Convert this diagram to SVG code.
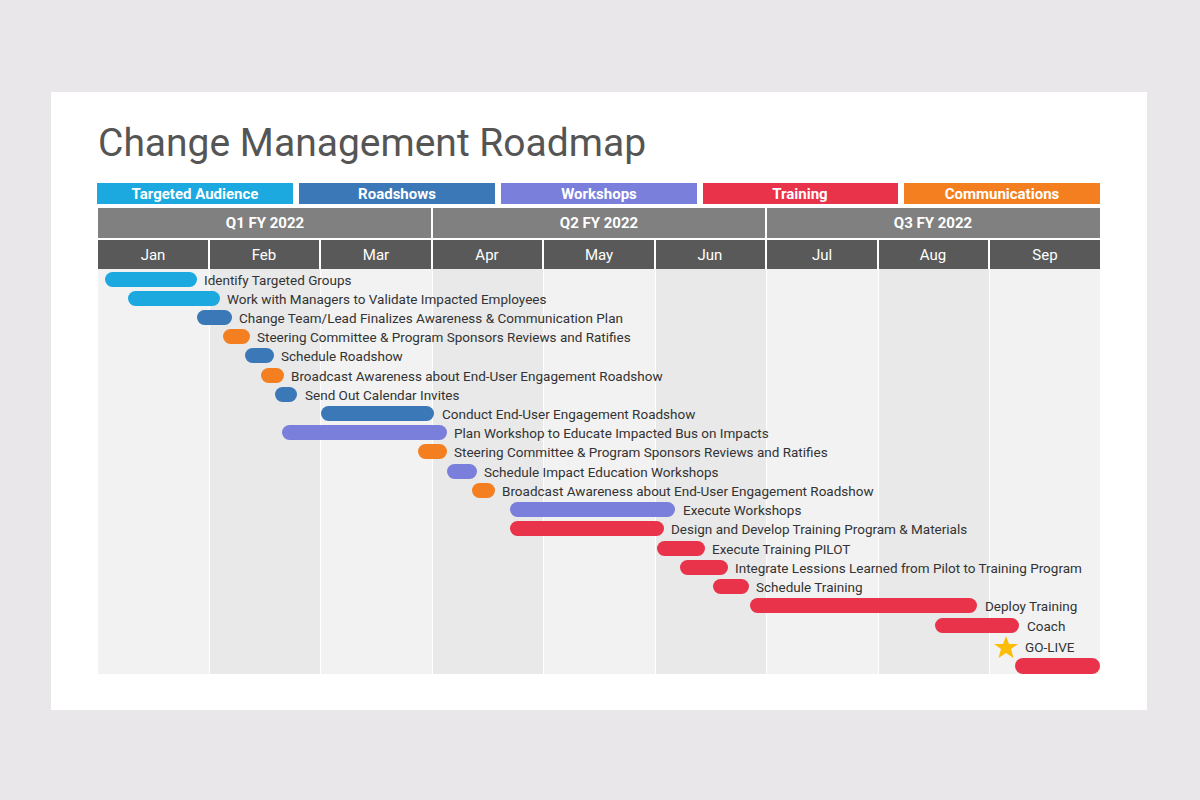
<svg xmlns="http://www.w3.org/2000/svg" width="1200" height="800" viewBox="0 0 1200 800">
<style>
.lg{font-family:Roboto,"Liberation Sans",sans-serif;font-size:15px;font-weight:bold;fill:#fff;text-anchor:middle}
.hd{font-family:Roboto,"Liberation Sans",sans-serif;font-size:15px;fill:#fff;text-anchor:middle}
.hq{font-family:Roboto,"Liberation Sans",sans-serif;font-size:15px;font-weight:bold;fill:#fff;text-anchor:middle}
.t{font-family:Roboto,"Liberation Sans",sans-serif;font-size:13.5px;fill:#333}
.ta{fill:#1ba9e0}.rs{fill:#3a78b8}.ws{fill:#7b7fdc}.tr{fill:#e8334a}.cm{fill:#f47f20}
</style>
<rect width="1200" height="800" fill="#e9e7e9"/>
<rect x="51" y="92" width="1096" height="618" fill="#fff"/>
<text x="98" y="156" font-family="Roboto,'Liberation Sans',sans-serif" font-size="39" fill="#555">Change Management Roadmap</text>
<g id="legend">
<rect x="97" y="183" width="196" height="21" class="ta"/><text x="195" y="199" class="lg">Targeted Audience</text>
<rect x="299" y="183" width="196" height="21" class="rs"/><text x="397" y="199" class="lg">Roadshows</text>
<rect x="501" y="183" width="196" height="21" class="ws"/><text x="599" y="199" class="lg">Workshops</text>
<rect x="703" y="183" width="195" height="21" class="tr"/><text x="800" y="199" class="lg">Training</text>
<rect x="904" y="183" width="196" height="21" class="cm"/><text x="1002" y="199" class="lg">Communications</text>
</g>
<g id="grid">
<rect x="98" y="269" width="111" height="405" fill="#f2f2f2"/>
<rect x="210" y="269" width="110" height="405" fill="#e9e9e9"/>
<rect x="321" y="269" width="111" height="405" fill="#f2f2f2"/>
<rect x="433" y="269" width="110" height="405" fill="#e9e9e9"/>
<rect x="544" y="269" width="111" height="405" fill="#f2f2f2"/>
<rect x="656" y="269" width="110" height="405" fill="#e9e9e9"/>
<rect x="767" y="269" width="111" height="405" fill="#f2f2f2"/>
<rect x="879" y="269" width="110" height="405" fill="#e9e9e9"/>
<rect x="990" y="269" width="110" height="405" fill="#f2f2f2"/>
<rect x="98" y="208" width="333" height="30" fill="#808080"/><text x="265" y="228" class="hq">Q1 FY 2022</text>
<rect x="433" y="208" width="332" height="30" fill="#808080"/><text x="599" y="228" class="hq">Q2 FY 2022</text>
<rect x="767" y="208" width="333" height="30" fill="#808080"/><text x="933" y="228" class="hq">Q3 FY 2022</text>
<g fill="#595959">
<rect x="98" y="240" width="110" height="29"/><rect x="210" y="240" width="109" height="29"/><rect x="321" y="240" width="110" height="29"/>
<rect x="433" y="240" width="109" height="29"/><rect x="544" y="240" width="110" height="29"/><rect x="656" y="240" width="109" height="29"/>
<rect x="767" y="240" width="110" height="29"/><rect x="879" y="240" width="109" height="29"/><rect x="990" y="240" width="110" height="29"/>
</g>
<text x="153" y="260" class="hd">Jan</text><text x="264" y="260" class="hd">Feb</text><text x="376" y="260" class="hd">Mar</text>
<text x="487" y="260" class="hd">Apr</text><text x="599" y="260" class="hd">May</text><text x="710" y="260" class="hd">Jun</text>
<text x="822" y="260" class="hd">Jul</text><text x="933" y="260" class="hd">Aug</text><text x="1045" y="260" class="hd">Sep</text>
</g>
<g id="tasks">
<rect x="105" y="272" width="92" height="15" rx="7.5" class="ta"/><text x="204" y="285" class="t">Identify Targeted Groups</text>
<rect x="128" y="291" width="92" height="15" rx="7.5" class="ta"/><text x="227" y="304" class="t">Work with Managers to Validate Impacted Employees</text>
<rect x="197" y="310" width="35" height="15" rx="7.5" class="rs"/><text x="239" y="323" class="t">Change Team/Lead Finalizes Awareness &amp; Communication Plan</text>
<rect x="223" y="329" width="27" height="15" rx="7.5" class="cm"/><text x="257" y="342" class="t">Steering Committee &amp; Program Sponsors Reviews and Ratifies</text>
<rect x="245" y="348" width="29" height="15" rx="7.5" class="rs"/><text x="281" y="361" class="t">Schedule Roadshow</text>
<rect x="261" y="368" width="23" height="15" rx="7.5" class="cm"/><text x="291" y="381" class="t">Broadcast Awareness about End-User Engagement Roadshow</text>
<rect x="275" y="387" width="22" height="15" rx="7.5" class="rs"/><text x="305" y="400" class="t">Send Out Calendar Invites</text>
<rect x="321" y="406" width="113" height="15" rx="7.5" class="rs"/><text x="442" y="419" class="t">Conduct End-User Engagement Roadshow</text>
<rect x="282" y="425" width="165" height="15" rx="7.5" class="ws"/><text x="454" y="438" class="t">Plan Workshop to Educate Impacted Bus on Impacts</text>
<rect x="418" y="444" width="29" height="15" rx="7.5" class="cm"/><text x="454" y="457" class="t">Steering Committee &amp; Program Sponsors Reviews and Ratifies</text>
<rect x="447" y="464" width="30" height="15" rx="7.5" class="ws"/><text x="484" y="477" class="t">Schedule Impact Education Workshops</text>
<rect x="472" y="483" width="23" height="15" rx="7.5" class="cm"/><text x="502" y="496" class="t">Broadcast Awareness about End-User Engagement Roadshow</text>
<rect x="510" y="502" width="165" height="15" rx="7.5" class="ws"/><text x="683" y="515" class="t">Execute Workshops</text>
<rect x="510" y="521" width="154" height="15" rx="7.5" class="tr"/><text x="671" y="534" class="t">Design and Develop Training Program &amp; Materials</text>
<rect x="657" y="541" width="48" height="15" rx="7.5" class="tr"/><text x="712" y="554" class="t">Execute Training PILOT</text>
<rect x="680" y="560" width="48" height="15" rx="7.5" class="tr"/><text x="735" y="573" class="t">Integrate Lessions Learned from Pilot to Training Program</text>
<rect x="713" y="579" width="36" height="15" rx="7.5" class="tr"/><text x="756" y="592" class="t">Schedule Training</text>
<rect x="750" y="598" width="227" height="15" rx="7.5" class="tr"/><text x="985" y="611" class="t">Deploy Training</text>
<rect x="935" y="618" width="84" height="15" rx="7.5" class="tr"/><text x="1027" y="631" class="t">Coach</text>
<polygon points="1006,636 1009,644 1018,644 1011,649 1013.5,658 1006,653 998.5,658 1001,649 994,644 1003,644" fill="#fbbd08"/>
<text x="1025" y="652" class="t">GO-LIVE</text>
<rect x="1015" y="658" width="85" height="16" rx="8" class="tr"/>
</g>
</svg>
